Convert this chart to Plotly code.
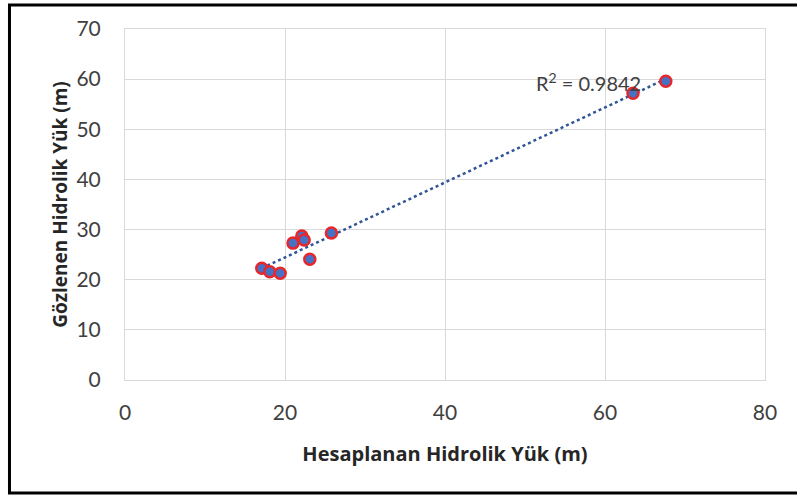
import numpy as np
import plotly.graph_objects as go

# hesaplanan (x) ve gözlenen (y) hidrolik yük, m
hesaplanan = [17.1, 18.1, 19.4, 21.0, 22.1, 22.4, 23.1, 25.8, 63.5, 67.6]
gozlenen = [22.3, 21.6, 21.3, 27.3, 28.7, 27.9, 24.1, 29.3, 57.2, 59.6]
r2_label = "R<sup>2</sup> = 0.9842"

x_ticks = [0, 20, 40, 60, 80]
y_ticks = [0, 10, 20, 30, 40, 50, 60, 70]

# lineer trend çizgisi
egim, kesim = np.polyfit(hesaplanan, gozlenen, 1)
xt = np.array([min(hesaplanan), max(hesaplanan)])
yt = egim * xt + kesim

tick_font = "Lato, Open Sans, sans-serif"
title_font = "Open Sans, Lato, sans-serif"

fig = go.Figure()

fig.add_trace(go.Scatter(
    x=xt, y=yt,
    mode="lines",
    line=dict(color="#2F5597", width=2.5, dash="dot"),
    showlegend=False,
    hoverinfo="skip"
))

fig.add_trace(go.Scatter(
    x=hesaplanan, y=gozlenen,
    mode="markers",
    marker=dict(size=11, color="#4472C4", line=dict(color="#E8262B", width=2.5)),
    showlegend=False
))

fig.add_annotation(
    x=57.9, y=59.4, xref="x", yref="y",
    text=r2_label, showarrow=False,
    font=dict(family=tick_font, size=20, color="#404040")
)

# dış çerçeve
fig.add_shape(
    type="rect", xref="paper", yref="paper",
    x0=-0.1805, x1=1.06, y0=-0.322, y1=1.0684,
    line=dict(color="black", width=3)
)

fig.update_xaxes(
    range=[0, 80], tickvals=x_ticks,
    showgrid=True, gridcolor="#D9D9D9", gridwidth=1,
    showline=True, linecolor="#D9D9D9", mirror=True,
    zeroline=False,
    ticks="", ticklabelstandoff=14,
    tickfont=dict(family=tick_font, size=21, color="#404040"),
    title=dict(text="<b>Hesaplanan Hidrolik Yük (m)</b>",
               font=dict(family=title_font, size=20, color="#262626"),
               standoff=23)
)

fig.update_yaxes(
    range=[0, 70], tickvals=y_ticks,
    showgrid=True, gridcolor="#D9D9D9", gridwidth=1,
    showline=True, linecolor="#D9D9D9", mirror=True,
    zeroline=False,
    ticks="", ticklabelstandoff=19,
    tickfont=dict(family=tick_font, size=21, color="#404040"),
    title=dict(text="<b>Gözlenen Hidrolik Yük (m)</b>",
               font=dict(family=title_font, size=19, color="#262626"),
               standoff=3)
)

fig.update_layout(
    width=797, height=495,
    margin=dict(l=125, r=32, t=29, b=115),
    plot_bgcolor="white",
    paper_bgcolor="white",
    showlegend=False
)

fig.write_html("out.html", config={"displayModeBar": False},
               post_script="document.body.style.margin='0';")
